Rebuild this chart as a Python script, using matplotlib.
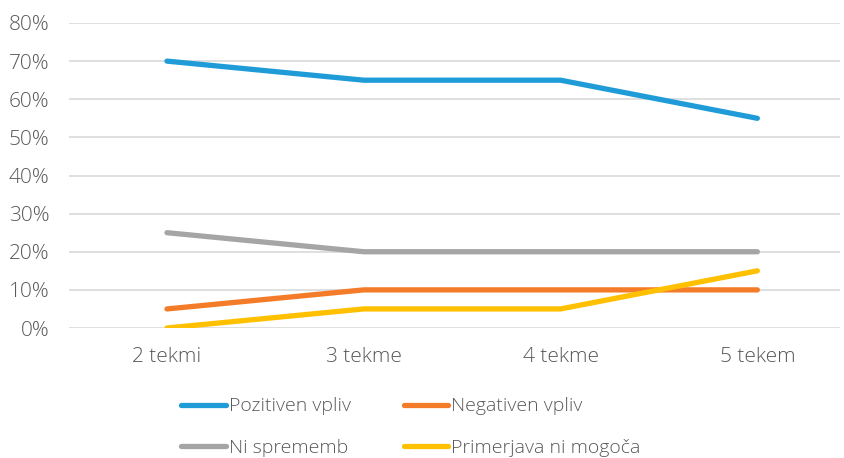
import matplotlib
matplotlib.use("Agg")
import matplotlib.pyplot as plt
from matplotlib.ticker import PercentFormatter

plt.rcParams['font.family'] = ['Open Sans', 'DejaVu Sans']
plt.rcParams['font.weight'] = 'light'

categories = ["2 tekmi", "3 tekme", "4 tekme", "5 tekem"]
pozitiven = [70, 65, 65, 55]
negativen = [5, 10, 10, 10]
ni_sprememb = [25, 20, 20, 20]
primerjava = [0, 5, 5, 15]

series = [
    ("Pozitiven vpliv", pozitiven, "#1f9cd8"),
    ("Negativen vpliv", negativen, "#f47b27"),
    ("Ni sprememb", ni_sprememb, "#a5a5a5"),
    ("Primerjava ni mogoča", primerjava, "#ffc000"),
]

W, H = 844, 458
fig = plt.figure(figsize=(W / 100, H / 100), dpi=100)
left, right, top, bottom = 69, 840, 23, 328
ax = fig.add_axes([left / W, 1 - bottom / H, (right - left) / W, (bottom - top) / H])

x = list(range(len(categories)))
for name, vals, col in series:
    ax.plot(x, vals, color=col, lw=3.8, solid_capstyle='round', label=name, zorder=3)

ax.set_ylim(0, 80)
ax.set_yticks(range(0, 81, 10))
ax.yaxis.set_major_formatter(PercentFormatter(decimals=0))
ax.set_xticks(x)
ax.set_xticklabels(categories)
ax.set_xlim(-0.498, 3.42)
ax.grid(axis='y', color='#d9d9d9', lw=1.2, zorder=0)
for s in ax.spines.values():
    s.set_visible(False)
ax.tick_params(axis='both', length=0, labelsize=15, colors='#595959')
ax.tick_params(axis='x', pad=14)
ax.tick_params(axis='y', pad=14)

handles, labels = ax.get_legend_handles_labels()
order = [0, 2, 1, 3]
leg = fig.legend([handles[i] for i in order], [labels[i] for i in order],
                 loc='center', bbox_to_anchor=(0.487, 1 - 427 / H),
                 ncol=2, frameon=False, fontsize=14, labelcolor='#595959',
                 handlelength=2.3, handletextpad=0.15, columnspacing=2.7,
                 labelspacing=1.2, borderpad=0)
for l in leg.get_lines():
    l.set_linewidth(3.8)

fig.savefig("out.png", dpi=100)
